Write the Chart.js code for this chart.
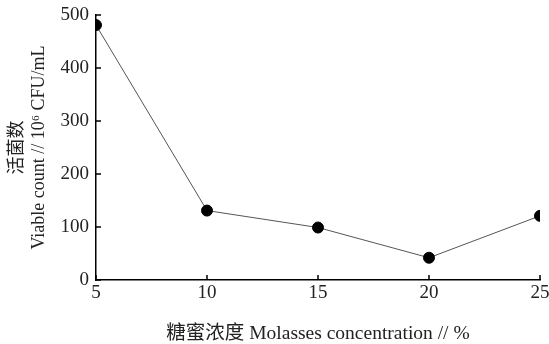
<!DOCTYPE html>
<html>
<head>
<meta charset="utf-8">
<script src="https://cdn.jsdelivr.net/npm/chart.js@4"></script>
<style>
  html, body { margin: 0; padding: 0; background: #fff; }
  #wrap { width: 549px; height: 344px; }
</style>
</head>
<body>
<div id="wrap"><canvas id="chart" width="549" height="344"></canvas></div>
<script>
const concentrations = [5, 10, 15, 20, 25];
const viableCounts = [481, 131, 99, 42, 121];
const xTicks = [5, 10, 15, 20, 25];
const yTicks = [0, 100, 200, 300, 400, 500];

const serif = '"Liberation Serif", "Noto Sans CJK SC", serif';

// ticks point into the plot, like the original figure
const inwardTicks = {
  id: 'inwardTicks',
  afterDraw(chart) {
    const ctx = chart.ctx;
    const x = chart.scales.x, y = chart.scales.y;
    ctx.save();
    ctx.strokeStyle = '#000';
    ctx.lineWidth = 1.5;
    ctx.beginPath();
    xTicks.forEach(v => {
      const px = x.getPixelForValue(v);
      ctx.moveTo(px, y.bottom);
      ctx.lineTo(px, y.bottom - 5);
    });
    yTicks.forEach(v => {
      const py = y.getPixelForValue(v);
      ctx.moveTo(x.left, py);
      ctx.lineTo(x.left + 5, py);
    });
    ctx.stroke();
    ctx.restore();
  }
};

new Chart(document.getElementById('chart'), {
  type: 'line',
  data: {
    datasets: [{
      data: concentrations.map((c, i) => ({ x: c, y: viableCounts[i] })),
      borderColor: '#555',
      borderWidth: 1,
      pointRadius: 5.5,
      pointBackgroundColor: '#000',
      pointBorderColor: '#000',
      tension: 0
    }]
  },
  options: {
    responsive: false,
    animation: false,
    layout: { padding: { top: 15, right: 9, left: 0, bottom: 0 } },
    plugins: { legend: { display: false }, tooltip: { enabled: false } },
    scales: {
      x: {
        type: 'linear',
        min: 5, max: 25,
        afterBuildTicks: s => { s.ticks = xTicks.map(v => ({ value: v })); },
        afterFit: s => { s.height = 64; },
        grid: { display: false },
        border: { display: true, color: '#000', width: 1.5 },
        ticks: { color: '#222', font: { family: serif, size: 19, lineHeight: 1.0 }, padding: -4, maxRotation: 0 },
        title: {
          display: true,
          text: '糖蜜浓度 Molasses concentration // %',
          color: '#222',
          font: { family: serif, size: 19.5, lineHeight: 1.0 },
          padding: { top: 9, bottom: 0 }
        }
      },
      y: {
        min: 0, max: 500,
        afterBuildTicks: s => { s.ticks = yTicks.map(v => ({ value: v })); },
        afterFit: s => { s.width = 96; },
        grid: { display: false },
        border: { display: true, color: '#000', width: 1.5 },
        ticks: { color: '#222', font: { family: serif, size: 19 }, padding: -1 },
        title: {
          display: true,
          text: ['活菌数', 'Viable count // 10⁶ CFU/mL'],
          color: '#222',
          font: { family: serif, size: 18, lineHeight: 1.22 },
          padding: { top: 6, bottom: 0 }
        }
      }
    }
  },
  plugins: [inwardTicks]
});
</script>
</body>
</html>
